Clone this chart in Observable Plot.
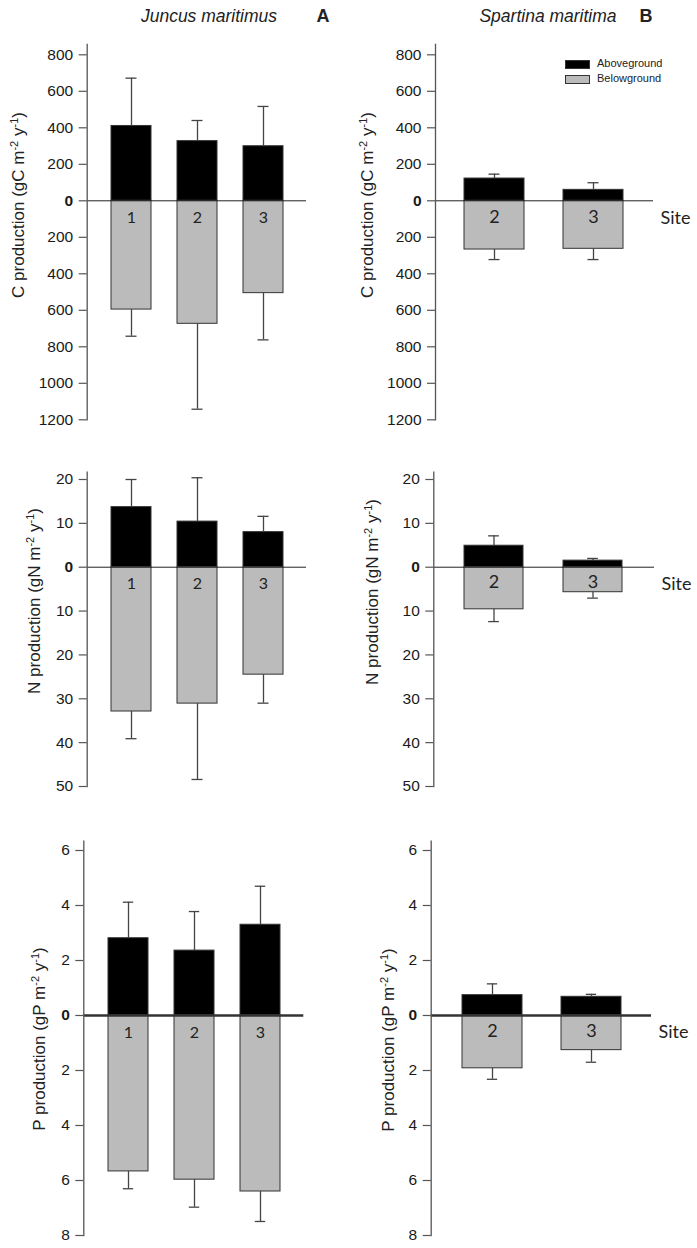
<!DOCTYPE html>
<html>
<head>
<meta charset="utf-8">
<script src="https://cdn.jsdelivr.net/npm/d3@7"></script>
<script src="https://cdn.jsdelivr.net/npm/@observablehq/plot@0.6"></script>
<style>
  html, body { margin: 0; padding: 0; background: #fff; }
  #root { position: relative; width: 697px; height: 1248px; overflow: hidden; background: #fff;
          font-family: "Liberation Sans", Arial, sans-serif; color: #222; }
  .panel { position: absolute; }
  .ylab { position: absolute; white-space: nowrap; font-size: 17px; transform: translate(-50%, -50%) rotate(-90deg); }
  .ylab sup { font-size: 11px; vertical-align: 6px; line-height: 0; }
  .title { position: absolute; font-size: 17.5px; font-style: italic; transform: translate(-50%, -50%); white-space: nowrap; }
  .letter { position: absolute; font-size: 18px; font-weight: bold; transform: translate(-50%, -50%); }
  .leg { position: absolute; font-size: 11px; white-space: nowrap; }
  .sw { position: absolute; width: 25px; height: 9px; box-sizing: border-box; border: 1px solid #333; }
</style>
</head>
<body>
<div id="root"></div>
<script>
// ---------------- data ----------------
const sitesJuncus = ["1", "2", "3"];
const sitesSpartina = ["2", "3"];

// Carbon (gC m-2 y-1)
const juncusC_above = [410, 327, 299];
const juncusC_aboveSD = [262, 113, 218];
const juncusC_below = [596, 674, 506];
const juncusC_belowSD = [146, 468, 256];
const spartinaC_above = [122, 60];
const spartinaC_aboveSD = [24, 39];
const spartinaC_below = [267, 263];
const spartinaC_belowSD = [55, 59];

// Nitrogen (gN m-2 y-1)
const juncusN_above = [13.7, 10.4, 8.0];
const juncusN_aboveSD = [6.3, 10.0, 3.6];
const juncusN_below = [32.9, 31.1, 24.5];
const juncusN_belowSD = [6.2, 17.3, 6.5];
const spartinaN_above = [4.9, 1.5];
const spartinaN_aboveSD = [2.25, 0.5];
const spartinaN_below = [9.6, 5.7];
const spartinaN_belowSD = [2.8, 1.35];

// Phosphorus (gP m-2 y-1)
const juncusP_above = [2.81, 2.36, 3.30];
const juncusP_aboveSD = [1.31, 1.42, 1.40];
const juncusP_below = [5.67, 5.97, 6.40];
const juncusP_belowSD = [0.63, 1.00, 1.09];
const spartinaP_above = [0.74, 0.68];
const spartinaP_aboveSD = [0.41, 0.09];
const spartinaP_below = [1.92, 1.26];
const spartinaP_belowSD = [0.40, 0.44];

// tick values (signed: above positive, below negative; labels show magnitude)
const ticksC = [800, 600, 400, 200, 0, -200, -400, -600, -800, -1000, -1200];
const ticksN = [20, 10, 0, -10, -20, -30, -40, -50];
const ticksP = [6, 4, 2, 0, -2, -4, -6, -8];

const speciesTitles = ["Juncus maritimus", "Spartina maritima"];
const panelLetters = ["A", "B"];
const legendLabels = ["Aboveground", "Belowground"];
const xLabel = "Site";
const yLabels = {
  C: 'C production (gC m<sup>-2</sup> y<sup>-1</sup>)',
  N: 'N production (gN m<sup>-2</sup> y<sup>-1</sup>)',
  P: 'P production (gP m<sup>-2</sup> y<sup>-1</sup>)'
};

// ---------------- layout (global pixel coords) ----------------
const panels = [
  {el: "C", col: 0, sites: sitesJuncus, above: juncusC_above, aboveSD: juncusC_aboveSD, below: juncusC_below, belowSD: juncusC_belowSD, ticks: ticksC,
   left: 0, top: 0, w: 348, h: 430, axisX: 86.7, endX: 306, axisTop: 44, topVal: 800, topPx: 54.3, botVal: -1200, botPx: 419.3,
   bar0: 110, barW: 40, step: 66.4, numSize: 16, numDy: 17, zeroW: 1, labX: 19, labY: 205},
  {el: "C", col: 1, sites: sitesSpartina, above: spartinaC_above, aboveSD: spartinaC_aboveSD, below: spartinaC_below, belowSD: spartinaC_belowSD, ticks: ticksC,
   left: 348, top: 0, w: 349, h: 430, axisX: 435, endX: 653, axisTop: 44, topVal: 800, topPx: 54.3, botVal: -1200, botPx: 419.3,
   bar0: 464, barW: 60, step: 99.5, numSize: 18, numDy: 16, zeroW: 1, labX: 368, labY: 205},
  {el: "N", col: 0, sites: sitesJuncus, above: juncusN_above, aboveSD: juncusN_aboveSD, below: juncusN_below, belowSD: juncusN_belowSD, ticks: ticksN,
   left: 0, top: 430, w: 348, h: 400, axisX: 86.7, endX: 306, axisTop: 471.7, topVal: 20, topPx: 479, botVal: -50, botPx: 786,
   bar0: 110, barW: 40, step: 66.4, numSize: 16, numDy: 17, zeroW: 1, labX: 35, labY: 601},
  {el: "N", col: 1, sites: sitesSpartina, above: spartinaN_above, aboveSD: spartinaN_aboveSD, below: spartinaN_below, belowSD: spartinaN_belowSD, ticks: ticksN,
   left: 348, top: 430, w: 349, h: 400, axisX: 433.3, endX: 654, axisTop: 471.7, topVal: 20, topPx: 479, botVal: -50, botPx: 786,
   bar0: 464, barW: 59.3, step: 99.3, numSize: 18, numDy: 15, zeroW: 1, labX: 373, labY: 592},
  {el: "P", col: 0, sites: sitesJuncus, above: juncusP_above, aboveSD: juncusP_aboveSD, below: juncusP_below, belowSD: juncusP_belowSD, ticks: ticksP,
   left: 0, top: 820, w: 348, h: 428, axisX: 83.3, endX: 303.3, axisTop: 840.7, topVal: 6, topPx: 850, botVal: -8, botPx: 1235,
   bar0: 106.7, barW: 40.6, step: 66.65, numSize: 16, numDy: 17, zeroW: 2.5, labX: 40, labY: 1039},
  {el: "P", col: 1, sites: sitesSpartina, above: spartinaP_above, aboveSD: spartinaP_aboveSD, below: spartinaP_below, belowSD: spartinaP_belowSD, ticks: ticksP,
   left: 348, top: 820, w: 349, h: 428, axisX: 430.7, endX: 651, axisTop: 840.7, topVal: 6, topPx: 850, botVal: -8, botPx: 1235,
   bar0: 461, barW: 60.7, step: 99.7, numSize: 18, numDy: 16, zeroW: 2.5, labX: 389, labY: 1040}
];

const root = document.getElementById("root");

function makePanel(cfg) {
  const n = cfg.sites.length;
  const p = 1 - cfg.barW / cfg.step;
  const x0 = cfg.bar0 - cfg.left;
  const xr = [x0 - p * cfg.step, x0 + (n - 1) * cfg.step + cfg.barW + p * cfg.step];
  const rows = [];
  cfg.sites.forEach((s, i) => {
    rows.push({site: s, part: "Aboveground", v: cfg.above[i], e: cfg.above[i] + cfg.aboveSD[i]});
    rows.push({site: s, part: "Belowground", v: -cfg.below[i], e: -(cfg.below[i] + cfg.belowSD[i])});
  });
  const capInset = (cfg.barW - 11) / 2;
  const marks = [
    Plot.barY(rows, {x: "site", y1: () => 0, y2: "v", fill: "part", stroke: "#333", strokeWidth: 1}),
    Plot.ruleX(rows, {x: "site", y1: "v", y2: "e", stroke: "#444", strokeWidth: 1.3}),
    Plot.tickY(rows, {x: "site", y: "e", stroke: "#444", strokeWidth: 1.3, insetLeft: capInset, insetRight: capInset}),
    Plot.ruleY([0], {stroke: cfg.zeroW > 1 ? "#333" : "#222", strokeWidth: cfg.zeroW}),
    Plot.frame({anchor: "left", stroke: "#555", strokeWidth: 1.3}),
    Plot.axisY({ticks: cfg.ticks.filter(t => t !== 0), tickFormat: d => String(Math.abs(d)), tickSize: 8, tickPadding: 6,
                fontSize: 15.5, label: null, stroke: "#555", strokeWidth: 1.2, fill: "#1a1a1a"}),
    Plot.axisY({ticks: [0], tickFormat: d => String(Math.abs(d)), tickSize: 8, tickPadding: 6,
                fontSize: 15.5, fontWeight: "bold", label: null, stroke: "#555", strokeWidth: 1.2, fill: "#1a1a1a"}),
    Plot.text(cfg.sites, {x: d => d, y: () => 0, text: d => d, dy: cfg.numDy, fontSize: cfg.numSize,
                          fontFamily: "Lato, 'Open Sans', sans-serif", fill: "#222"})
  ];
  if (cfg.col === 1) {
    marks.push(Plot.text([xLabel], {y: () => 0, frameAnchor: "right", text: d => d, dx: 7, dy: 17, textAnchor: "start",
      fontSize: 18, fontFamily: "Lato, 'Open Sans', sans-serif", fill: "#222"}));
  }
  const svg = Plot.plot({
    width: cfg.w, height: cfg.h,
    marginLeft: cfg.axisX - cfg.left,
    marginRight: cfg.w - (cfg.endX - cfg.left),
    marginTop: cfg.axisTop - cfg.top,
    marginBottom: cfg.h - (cfg.botPx - cfg.top),
    style: {fontFamily: "'Liberation Sans', Arial, sans-serif", fontSize: "15px", color: "#222", background: "transparent", overflow: "visible"},
    x: {type: "band", domain: cfg.sites, range: xr, padding: p, align: 0.5, axis: null},
    y: {domain: [cfg.botVal, cfg.topVal], range: [cfg.botPx - cfg.top, cfg.topPx - cfg.top], axis: null},
    color: {domain: legendLabels, range: ["#000000", "#bbbbbb"]},
    marks
  });
  const wrap = document.createElement("div");
  wrap.className = "panel";
  wrap.style.left = cfg.left + "px";
  wrap.style.top = cfg.top + "px";
  wrap.appendChild(svg);
  root.appendChild(wrap);

  const lab = document.createElement("div");
  lab.className = "ylab";
  lab.style.left = cfg.labX + "px";
  lab.style.top = cfg.labY + "px";
  lab.innerHTML = yLabels[cfg.el];
  root.appendChild(lab);
}

panels.forEach(makePanel);

// titles
const titlePos = [[209, 16, 323, 16], [548, 16, 646, 16]];
speciesTitles.forEach((t, i) => {
  const d = document.createElement("div");
  d.className = "title";
  d.style.left = titlePos[i][0] + "px";
  d.style.top = titlePos[i][1] + "px";
  d.textContent = t;
  root.appendChild(d);
  const l = document.createElement("div");
  l.className = "letter";
  l.style.left = titlePos[i][2] + "px";
  l.style.top = titlePos[i][3] + "px";
  l.textContent = panelLetters[i];
  root.appendChild(l);
});

// legend
const legColors = ["#000000", "#bbbbbb"];
legendLabels.forEach((lbl, i) => {
  const sw = document.createElement("div");
  sw.className = "sw";
  sw.style.left = "565px";
  sw.style.top = (60 + i * 15) + "px";
  sw.style.background = legColors[i];
  root.appendChild(sw);
  const t = document.createElement("div");
  t.className = "leg";
  t.style.left = "597px";
  t.style.top = (57 + i * 15) + "px";
  t.textContent = lbl;
  root.appendChild(t);
});
</script>
</body>
</html>
